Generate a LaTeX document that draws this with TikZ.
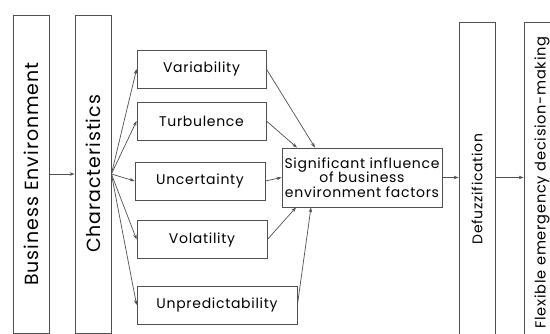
\documentclass[tikz,border=0pt]{standalone}
\usepackage{fontspec}
\setmainfont{Poppins}[LetterSpace=5]
\usetikzlibrary{arrows.meta}
\definecolor{boxgray}{HTML}{505050}
\tikzset{
    plain-box/.style = {draw=boxgray, line width=0.8pt, rectangle, inner sep=2pt, align=center},
    tall-box/.style = {plain-box, minimum height=36pt, rotate=90},
    factor-box/.style = {plain-box, minimum height=38pt, font=\fontsize{14}{16}\selectfont},
    link/.style = {draw=boxgray, line width=0.7pt, -{Stealth[length=5pt,width=3.5pt]}},
}
\begin{document}
\begin{tikzpicture}[x=1pt,y=1pt]
\useasboundingbox (0,-334) rectangle (550,0);
% vertical columns
\node [tall-box, minimum width=318pt, font=\fontsize{19}{22}\selectfont] (env) at (31,-174) {Business Environment};
\node [tall-box, minimum width=318pt, font=\fontsize{19}{22}\selectfont] (char) at (93,-174) {Characteristics};
% factors
\node [factor-box, minimum width=129pt] (var) at (201.5,-69) {Variability};
\node [factor-box, minimum width=129pt] (turb) at (201.5,-121) {Turbulence};
\node [factor-box, minimum width=130pt] (unc) at (200,-181) {Uncertainty};
\node [factor-box, minimum width=130pt] (vol) at (202,-239.5) {Volatility};
\node [factor-box, minimum width=160pt] (unpred) at (217,-305) {Unpredictability};
\node [plain-box, minimum width=160pt, minimum height=59pt, font=\fontsize{14}{14.5}\selectfont] (sig) at (362,-177.5) {Significant influence\\of business\\environment factors};
% output columns
\node [tall-box, minimum width=334pt, font=\fontsize{14}{16}\selectfont] (defuz) at (477,-189) {Defuzzification};
\node [tall-box, minimum width=321pt, font=\fontsize{14.6}{17}\selectfont] (flex) at (542,-182.5) {Flexible emergency decision-making};

\draw [link] (env.south) -- (char.north);
\foreach \f in {var,turb,unc,vol,unpred}
    \draw [link] (char.south) -- (\f.west);
\draw [link] (var.east) -- ([xshift=-47pt]sig.north);
\draw [link] (turb.east) -- ([xshift=-65pt]sig.north);
\draw [link] (unc.east) -- (sig.west);
\draw [link] (vol.east) -- ([xshift=-66pt]sig.south);
\draw [link] (unpred.east) -- ([xshift=-51pt]sig.south);
\draw [link] (sig.east) -- (sig.east -| defuz.north);
\draw [link] (defuz.south |- sig.east) -- (flex.north |- sig.east);
\end{tikzpicture}
\end{document}
